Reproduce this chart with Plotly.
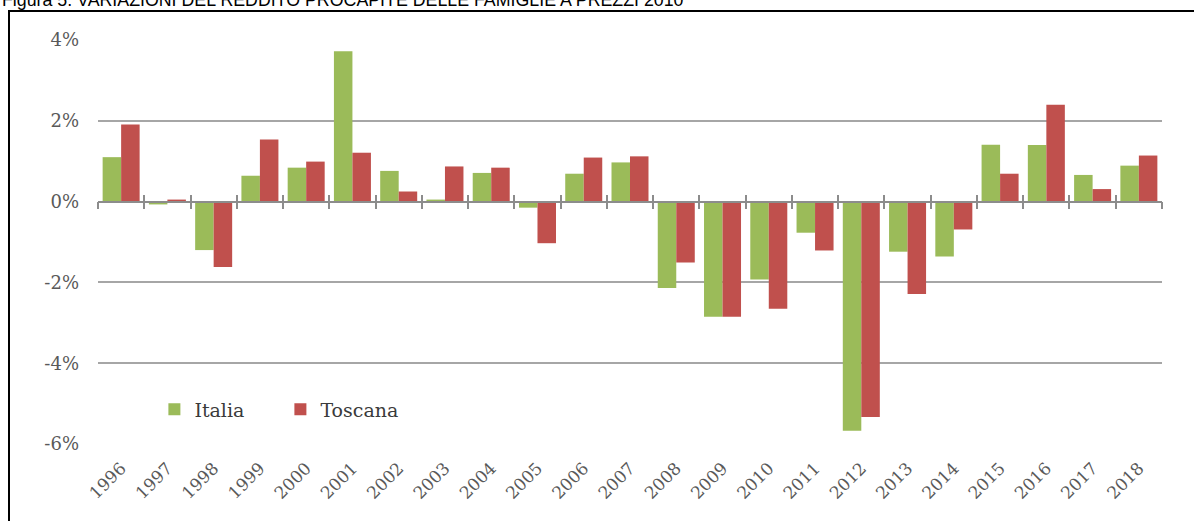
import plotly.graph_objects as go

years = list(range(1996, 2019))
italia = [1.10, -0.07, -1.20, 0.64, 0.84, 3.72, 0.76, 0.05, 0.71, -0.15, 0.69, 0.97,
          -2.14, -2.85, -1.93, -0.77, -5.67, -1.24, -1.36, 1.41, 1.40, 0.66, 0.89]
toscana = [1.91, 0.05, -1.62, 1.54, 0.99, 1.21, 0.25, 0.87, 0.84, -1.03, 1.09, 1.12,
           -1.51, -2.85, -2.65, -1.21, -5.33, -2.29, -0.69, 0.69, 2.40, 0.31, 1.14]
y_ticks = [-6, -4, -2, 0, 2, 4]
y_tick_labels = ["-6%", "-4%", "-2%", "0%", "2%", "4%"]
title_text = "Figura 5. VARIAZIONI DEL REDDITO PROCAPITE DELLE FAMIGLIE A PREZZI 2010"

GREEN = "#9BBB59"
RED = "#C0504D"
SERIF = "DejaVu Serif"

fig = go.Figure()
fig.add_trace(go.Bar(x=years, y=italia, name="Italia", marker=dict(color=GREEN, line=dict(width=0))))
fig.add_trace(go.Bar(x=years, y=toscana, name="Toscana", marker=dict(color=RED, line=dict(width=0))))
# helper empty traces so the zero-line axes are drawn
fig.add_trace(go.Scatter(x=[], y=[], xaxis="x2", showlegend=False, hoverinfo="skip"))
fig.add_trace(go.Scatter(x=[], y=[], xaxis="x3", showlegend=False, hoverinfo="skip"))

xrange = [years[0] - 0.5, years[-1] + 0.5]
boundaries = [y - 0.5 for y in years] + [years[-1] + 0.5]
zero_pos = (0 - y_ticks[0]) / (y_ticks[-1] - y_ticks[0])

fig.update_layout(
    width=1194, height=521,
    margin=dict(l=98, r=32, t=40, b=77),
    plot_bgcolor="white", paper_bgcolor="white",
    barmode="group", bargap=0.2, bargroupgap=0,
    showlegend=True,
    legend=dict(orientation="h", x=0.053, y=0.0855, xanchor="left", yanchor="middle",
                font=dict(family=SERIF, size=19, color="#3a3a3a"),
                entrywidth=81, entrywidthmode="pixels", bgcolor="rgba(0,0,0,0)"),
    xaxis=dict(range=xrange, tickmode="array", tickvals=years, ticktext=[str(y) for y in years],
               tickangle=-45, showgrid=False, zeroline=False, showline=False, ticks="",
               ticklabelstandoff=10,
               tickfont=dict(family=SERIF, size=17, color="#595959")),
    xaxis2=dict(range=xrange, overlaying="x", anchor="free", position=zero_pos, matches="x",
                tickmode="array", tickvals=boundaries, showticklabels=False, ticks="outside",
                ticklen=7, tickwidth=1.5, tickcolor="#8C8C8C", showline=True, linecolor="#8C8C8C",
                linewidth=1.5, showgrid=False, zeroline=False),
    xaxis3=dict(range=xrange, overlaying="x", anchor="free", position=zero_pos, matches="x",
                tickmode="array", tickvals=boundaries, showticklabels=False, ticks="inside",
                ticklen=7, tickwidth=1.5, tickcolor="#8C8C8C", showline=False,
                showgrid=False, zeroline=False),
    yaxis=dict(range=[y_ticks[0], y_ticks[-1]], tickmode="array", tickvals=y_ticks,
               ticktext=y_tick_labels, showgrid=True, gridcolor="#A6A6A6", gridwidth=1.5,
               zeroline=False, showline=False, ticks="", ticklabelstandoff=18,
               tickfont=dict(family=SERIF, size=18, color="#595959")),
    shapes=[dict(type="rect", xref="paper", yref="paper",
                 x0=(9 - 98) / 1064, x1=1.2, y0=-0.5, y1=(444 - 11) / 404,
                 line=dict(color="black", width=2), fillcolor="rgba(0,0,0,0)", layer="below")],
    annotations=[dict(text=title_text, xref="paper", yref="paper",
                      x=(0 - 98) / 1064, y=(444 - 0) / 404, xanchor="left", yanchor="middle",
                      showarrow=False, font=dict(family="Liberation Sans", size=17.8, color="black"))],
)

fig.write_html("out.html", config={"displayModeBar": False},
               post_script="document.body.style.margin='0';document.body.style.overflow='hidden';")
